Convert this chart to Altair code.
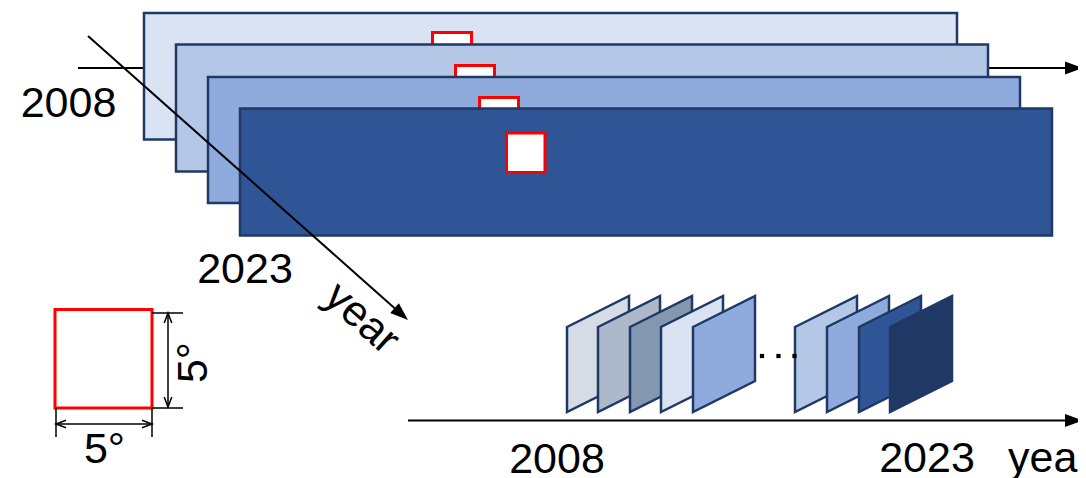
import math
import altair as alt
import pandas as pd

FONT = "Liberation Sans"
DARK = "#1F3864"

# ---------------- diagram values ----------------
# stacked yearly grids (upper panel), back to front
grid_x0 = [144, 176, 208, 240]
grid_x1 = [957, 988, 1020, 1052]
grid_y0 = [13, 44.5, 77, 108.5]
grid_y1 = [139.5, 171.5, 203, 235.5]
grid_fill = ["#DAE3F3", "#B4C7E7", "#8FAADC", "#2F5597"]

# the 5x5 degree cell drawn on each grid
cell_x0 = [432.5, 455.5, 479.5, 506.5]
cell_x1 = [471.5, 494.5, 518.5, 545]
cell_y0 = [32.5, 65.5, 97.5, 133]
cell_y1 = [71.5, 104.5, 136.5, 172.5]

# sequence of frames (lower panel)
frame_left = [567, 598, 630, 661, 693, 795, 827, 859, 890]
frame_fill = ["#D6DCE5", "#ADB9CA", "#8497B0", "#DAE3F3", "#8FAADC",
              "#B4C7E7", "#8FAADC", "#2F5597", "#203864"]
frame_width = 62
frame_top = [327, 296]      # left edge, right edge
frame_bottom = [412, 381]   # left edge, right edge

dots_x = [762, 778.5, 794.5]
dots_y = [356, 356, 356]

# axis lines with arrow heads
line_x0 = [78, 88, 408]
line_y0 = [68, 36, 420.5]
line_x1 = [1066, 400, 1066]
line_y1 = [68, 313, 420.5]
arrow_tip_x = [1083, 408, 1083]
arrow_tip_y = [68, 320, 420.5]
arrow_len = 18

# legend cell and its dimension lines
legend_cell = [55, 152, 309.5, 408]   # x0, x1, y0, y1
dim_x0 = [152, 152, 168, 56, 152, 56]
dim_y0 = [313, 408, 313, 408, 408, 424]
dim_x1 = [183, 183, 168, 56, 152, 152]
dim_y1 = [313, 408, 407, 437, 437, 424]
chev_tip_x = [168, 168, 56, 152]
chev_tip_y = [313, 407, 424, 424]
chev_angle = [270, 90, 180, 0]
chev_len = 10

labels = ["2008", "2023", "year", "5°", "5°", "2008", "2023"]
label_x = [68.5, 245, 353, 104.5, 207, 557, 927]
label_y = [116.5, 283, 328, 463, 362.5, 472.5, 472]
label_angle = [0, 0, 42, 0, 270, 0, 0]
left_labels = ["year"]
left_label_x = [1008]
left_label_y = [472]

# ---------------- tables ----------------
rect_rows = []
for i in range(4):
    rect_rows.append(dict(x0=grid_x0[i], x1=grid_x1[i], y0=grid_y0[i], y1=grid_y1[i],
                          fill=grid_fill[i], stroke=DARK, sw=2.5))
    rect_rows.append(dict(x0=cell_x0[i], x1=cell_x1[i], y0=cell_y0[i], y1=cell_y1[i],
                          fill="#FFFFFF", stroke="#FF0000", sw=3))
rect_rows.append(dict(x0=legend_cell[0], x1=legend_cell[1], y0=legend_cell[2], y1=legend_cell[3],
                      fill="#FFFFFF", stroke="#FF0000", sw=3))
rects = pd.DataFrame(rect_rows)

frame_rows = []
for i, left in enumerate(frame_left):
    frame_rows.append(dict(id=i, x=left, y=frame_top[0], y2=frame_bottom[0], fill=frame_fill[i]))
    frame_rows.append(dict(id=i, x=left + frame_width, y=frame_top[1], y2=frame_bottom[1], fill=frame_fill[i]))
frames = pd.DataFrame(frame_rows)

lines = pd.DataFrame(dict(x0=line_x0, y0=line_y0, x1=line_x1, y1=line_y1))

arrow_rows = []
for i in range(3):
    a = math.atan2(arrow_tip_y[i] - line_y0[i], arrow_tip_x[i] - line_x0[i])
    arrow_rows.append(dict(x=arrow_tip_x[i] - arrow_len / 2 * math.cos(a),
                           y=arrow_tip_y[i] - arrow_len / 2 * math.sin(a),
                           angle=math.degrees(a) % 360))
arrows = pd.DataFrame(arrow_rows)

dims = pd.DataFrame(dict(x0=dim_x0, y0=dim_y0, x1=dim_x1, y1=dim_y1))
chev_rows = []
for i in range(4):
    a = math.radians(chev_angle[i])
    chev_rows.append(dict(x=chev_tip_x[i] - chev_len / 2 * math.cos(a),
                          y=chev_tip_y[i] - chev_len / 2 * math.sin(a),
                          angle=chev_angle[i]))
chevs = pd.DataFrame(chev_rows)

dots = pd.DataFrame(dict(x=dots_x, y=dots_y))
texts = pd.DataFrame(dict(label=labels, x=label_x, y=label_y, angle=label_angle))
texts_left = pd.DataFrame(dict(label=left_labels, x=left_label_x, y=left_label_y))

# ---------------- scales ----------------
XS = alt.Scale(domain=[8, 1078], nice=False, zero=False)
YS = alt.Scale(domain=[8, 478], nice=False, zero=False, reverse=True)


def X(f):
    return alt.X(f"{f}:Q", scale=XS, axis=None)


def Y(f):
    return alt.Y(f"{f}:Q", scale=YS, axis=None)


top_axis = alt.Chart(lines.iloc[[0]]).mark_rule(color="black", strokeWidth=2).encode(
    x=X("x0"), y=Y("y0"), x2="x1", y2="y1")

rect_layer = alt.Chart(rects).mark_rect().encode(
    x=X("x0"), x2="x1", y=Y("y0"), y2="y1",
    fill=alt.Fill("fill:N", scale=None),
    stroke=alt.Stroke("stroke:N", scale=None),
    strokeWidth=alt.StrokeWidth("sw:Q", scale=None),
)

other_lines = alt.Chart(lines.iloc[[1, 2]]).mark_rule(color="black", strokeWidth=2).encode(
    x=X("x0"), y=Y("y0"), x2="x1", y2="y1")

arrow_layer = alt.Chart(arrows).mark_point(
    shape="M1,0L-1,-0.72L-1,0.72Z", filled=True, color="black", opacity=1,
    size=arrow_len ** 2,
).encode(x=X("x"), y=Y("y"), angle=alt.Angle("angle:Q", scale=None))

frame_layer = alt.Chart(frames).mark_area(stroke=DARK, strokeWidth=2.5, opacity=1).encode(
    x=X("x"), y=alt.Y("y:Q", scale=YS, axis=None, stack=None), y2="y2",
    fill=alt.Fill("fill:N", scale=None),
    detail="id:N",
)

dot_layer = alt.Chart(dots).mark_square(size=18, color="black", opacity=1).encode(
    x=X("x"), y=Y("y"))

dim_layer = alt.Chart(dims).mark_rule(color="black", strokeWidth=1.5).encode(
    x=X("x0"), y=Y("y0"), x2="x1", y2="y1")

chev_layer = alt.Chart(chevs).mark_point(
    shape="M-1,-0.75L1,0L-1,0.75", filled=False, color="black", opacity=1,
    strokeWidth=1.5, size=chev_len ** 2,
).encode(x=X("x"), y=Y("y"), angle=alt.Angle("angle:Q", scale=None))

text_layer = alt.Chart(texts).mark_text(
    font=FONT, fontSize=43, color="black", align="center", baseline="alphabetic"
).encode(x=X("x"), y=Y("y"), text="label:N", angle=alt.Angle("angle:Q", scale=None))

text_left_layer = alt.Chart(texts_left).mark_text(
    font=FONT, fontSize=43, color="black", align="left", baseline="alphabetic"
).encode(x=X("x"), y=Y("y"), text="label:N")

chart = alt.layer(
    top_axis, rect_layer, other_lines, arrow_layer, frame_layer, dot_layer,
    dim_layer, chev_layer, text_layer, text_left_layer,
).properties(
    width=1070, height=470, padding=0,
    autosize=alt.AutoSizeParams(type="none"),
    background="white",
).configure_view(stroke=None)

chart.save("out.html", embed_options={"renderer": "svg", "actions": False})
